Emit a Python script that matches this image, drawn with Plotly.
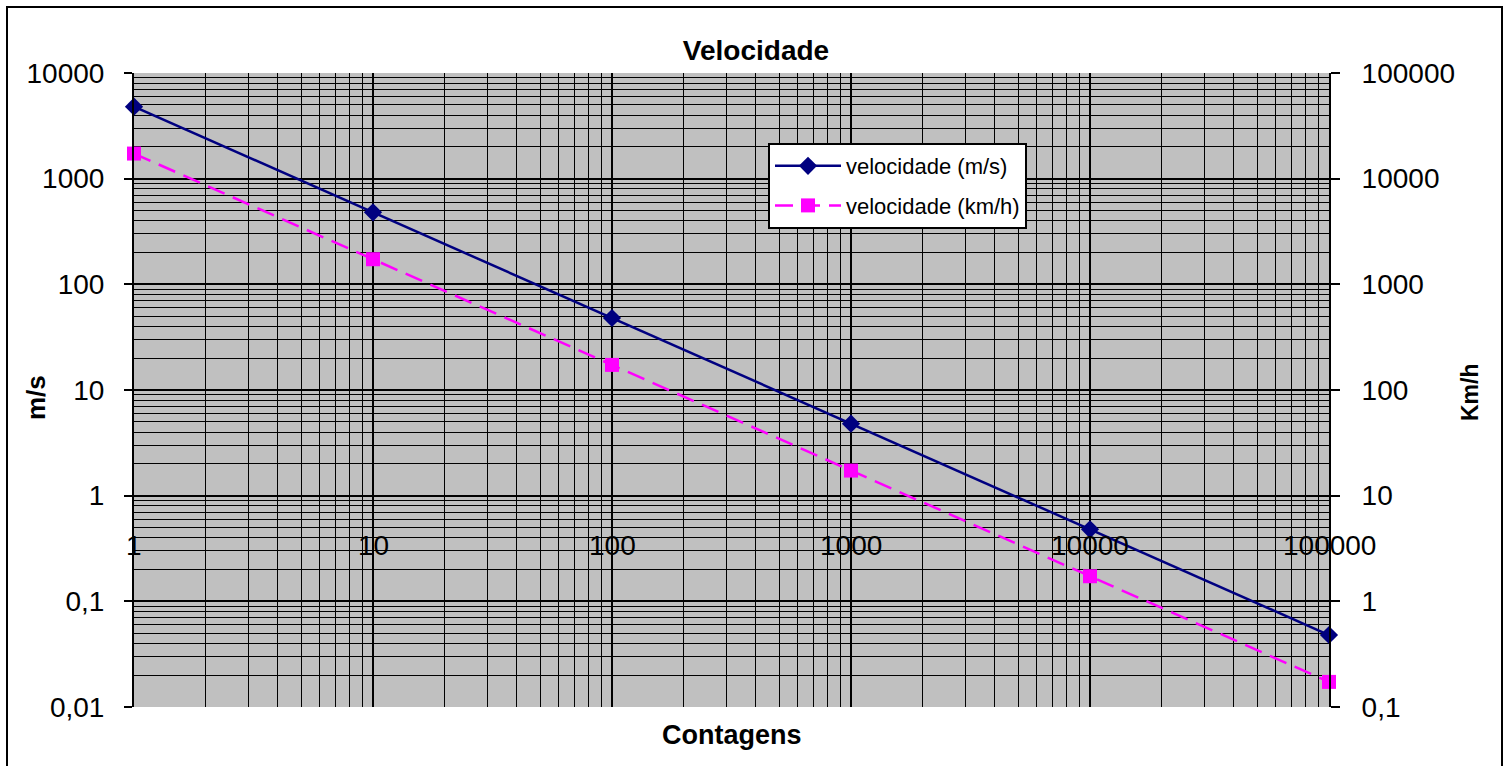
import math
import plotly.graph_objects as go

# ---- data ----
contagens = [1, 10, 100, 1000, 10000, 100000]
vel_ms = [4800, 480, 48, 4.8, 0.48, 0.048]
vel_kmh = [17280, 1728, 172.8, 17.28, 1.728, 0.1728]

y_left_ticks = [0.01, 0.1, 1, 10, 100, 1000, 10000]
y_left_text = ["0,01", "0,1", "1", "10", "100", "1000", "10000"]
y_right_ticks = [0.1, 1, 10, 100, 1000, 10000, 100000]
y_right_text = ["0,1", "1", "10", "100", "1000", "10000", "100000"]
x_ticks = [1, 10, 100, 1000, 10000, 100000]
x_text = ["1", "10", "100", "1000", "10000", "100000"]

W, H = 1507, 766
L, R, T, B = 134, 1329, 73, 707


def minor_vals(lo_exp, hi_exp):
    return [m * 10 ** e for e in range(lo_exp, hi_exp) for m in range(2, 10)]


fig = go.Figure()
fig.add_trace(go.Scatter(
    x=contagens, y=vel_ms, name="velocidade (m/s)", mode="lines+markers",
    line=dict(color="#000080", width=2.5),
    marker=dict(symbol="diamond", size=14, color="#000080"),
    cliponaxis=False, legendgroup="a"))
fig.add_trace(go.Scatter(
    x=contagens, y=vel_kmh, name="velocidade (km/h)", mode="lines+markers",
    line=dict(color="#FF00FF", width=2.5, dash="18px,9px"),
    marker=dict(symbol="square", size=14, color="#FF00FF"),
    cliponaxis=False, legendgroup="b", yaxis="y2"))

font_family = "Liberation Sans, Arial, sans-serif"
tickfont = dict(family=font_family, size=28, color="black")

fig.update_layout(
    width=W, height=H,
    margin=dict(l=L, r=W - R, t=T, b=H - B, pad=0),
    paper_bgcolor="white",
    plot_bgcolor="#C0C0C0",
    font=dict(family=font_family, color="black"),
    showlegend=True,
    legend=dict(
        x=(768 - L) / (R - L), y=(B - 143) / (B - T),
        xanchor="left", yanchor="top",
        bgcolor="white", bordercolor="black", borderwidth=2,
        font=dict(family=font_family, size=22, color="black"),
        tracegroupgap=8, itemwidth=66,
    ),
    title=dict(text="<b>Velocidade</b>", x=756 / W, xref="container",
               y=1 - 50 / H, yref="container", xanchor="center", yanchor="middle",
               font=dict(family=font_family, size=28, color="black")),
    xaxis=dict(
        type="log", range=[0, 5],
        tickvals=x_ticks, ticktext=[""] * len(x_ticks), ticks="",
        showgrid=True, gridcolor="black", gridwidth=1.8,
        minor=dict(tickmode="array", tickvals=minor_vals(0, 5),
                   showgrid=True, gridcolor="black", gridwidth=1.3, ticks=""),
        showline=False, zeroline=False, fixedrange=True,
    ),
    yaxis=dict(
        type="log", range=[-2, 4],
        tickvals=y_left_ticks, ticktext=y_left_text,
        ticks="outside", ticklen=8, tickcolor="black", tickwidth=1.5,
        ticklabelstandoff=14,
        tickfont=tickfont,
        showgrid=True, gridcolor="black", gridwidth=1.8,
        minor=dict(tickmode="array", tickvals=minor_vals(-2, 4),
                   showgrid=True, gridcolor="black", gridwidth=1.3, ticks=""),
        showline=True, linecolor="black", linewidth=2, zeroline=False,
    ),
    yaxis2=dict(
        type="log", range=[-1, 5], overlaying="y", side="right",
        tickvals=y_right_ticks, ticktext=y_right_text,
        ticks="outside", ticklen=9, tickcolor="black", tickwidth=1.5,
        ticklabelstandoff=16,
        tickfont=tickfont,
        showgrid=False,
        showline=True, linecolor="black", linewidth=2, zeroline=False,
    ),
)

annotations = []
for xv, txt in zip(x_ticks, x_text):
    annotations.append(dict(
        x=math.log10(xv), y=math.log10(0.5), xref="x", yref="y",
        text=txt, showarrow=False, xanchor="center", yanchor="top", yshift=-1,
        font=tickfont))

annotations.append(dict(
    text="<b>Contagens</b>", x=0.5, y=(B - 735) / (B - T), xref="paper", yref="paper",
    showarrow=False, xanchor="center", yanchor="middle",
    font=dict(family=font_family, size=27, color="black")))
annotations.append(dict(
    text="<b>m/s</b>", x=(36 - L) / (R - L), y=(B - 398) / (B - T), xref="paper", yref="paper",
    showarrow=False, xanchor="center", yanchor="middle", textangle=-90,
    font=dict(family=font_family, size=26, color="black")))
annotations.append(dict(
    text="<b>Km/h</b>", x=(1470 - L) / (R - L), y=(B - 392) / (B - T), xref="paper", yref="paper",
    showarrow=False, xanchor="center", yanchor="middle", textangle=-90,
    font=dict(family=font_family, size=23, color="black")))
fig.update_layout(annotations=annotations)

fig.add_shape(type="rect", xref="paper", yref="paper",
              x0=(7 - L) / (R - L), x1=(1502 - L) / (R - L),
              y0=(B - 775) / (B - T), y1=(B - 7) / (B - T),
              line=dict(color="black", width=2), layer="below")

fig.write_html(
    "out.html",
    config={"displayModeBar": False},
    post_script="document.body.style.margin='0';document.body.style.overflow='hidden';",
)
